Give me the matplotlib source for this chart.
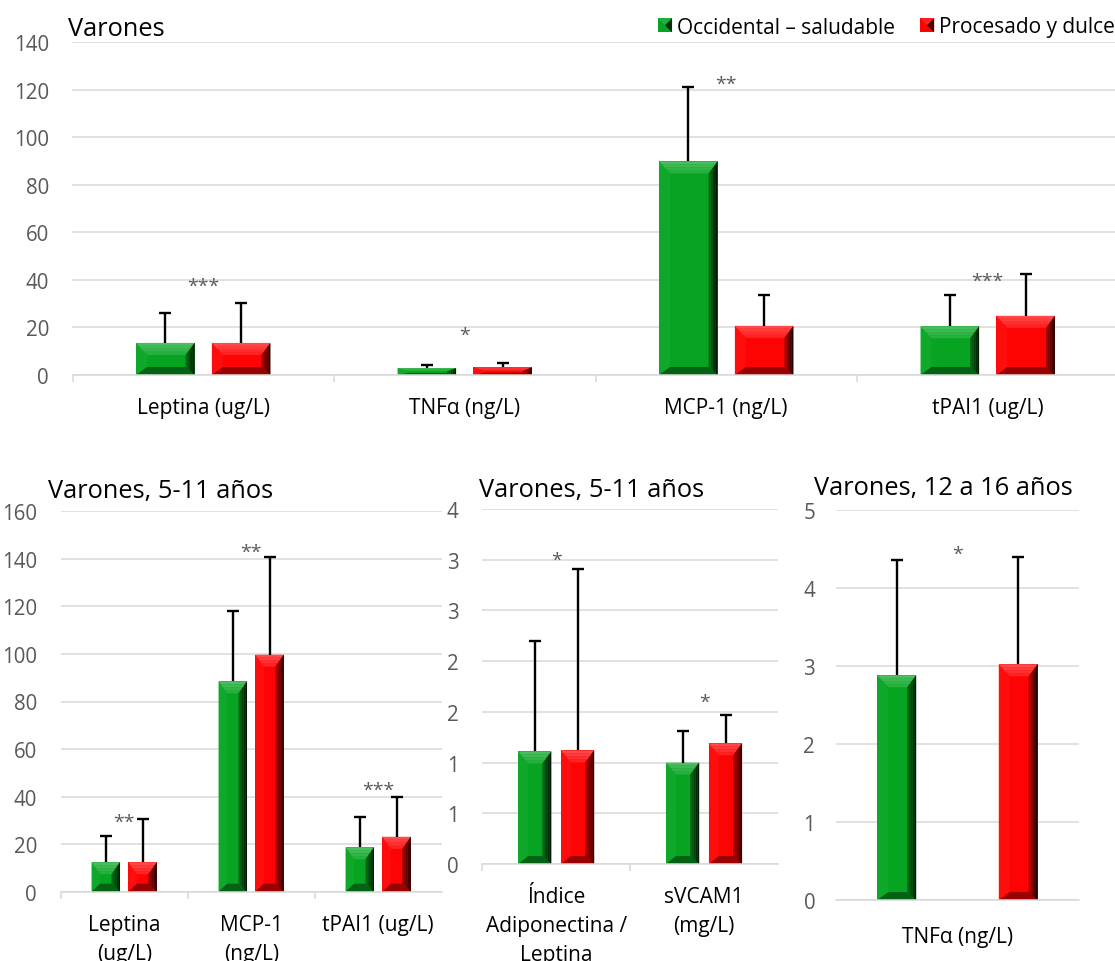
import math
import numpy as np
import matplotlib
matplotlib.use("Agg")
import matplotlib.pyplot as plt
from matplotlib.patches import Polygon, Rectangle, Patch
from matplotlib.legend_handler import HandlerBase
from matplotlib.ticker import FuncFormatter
from matplotlib.colors import to_rgb

plt.rcParams['font.family'] = ['Open Sans', 'DejaVu Sans']

# ---------------- data ----------------
series_names = ["Occidental – saludable", "Procesado y dulce"]

top_title = "Varones"
top_categories = ["Leptina (ug/L)", "TNFα (ng/L)", "MCP-1 (ng/L)", "tPAI1 (ug/L)"]
top_healthy = [13.5, 2.9, 89.9, 20.5]
top_healthy_sd = [12.6, 1.5, 31.3, 13.1]
top_processed = [13.5, 3.2, 20.7, 24.9]
top_processed_sd = [16.8, 1.7, 12.9, 17.4]
top_sig = ["***", "*", "**", "***"]
top_sig_y = [40.0, 19.3, 124.9, 42.4]
top_yticks = [0, 20, 40, 60, 80, 100, 120, 140]

young_title = "Varones, 5-11 años"
young_categories = ["Leptina\n(ug/L)", "MCP-1\n(ng/L)", "tPAI1 (ug/L)"]
young_healthy = [12.4, 88.5, 18.7]
young_healthy_sd = [11.2, 29.7, 12.6]
young_processed = [12.4, 99.7, 23.1]
young_processed_sd = [18.2, 41.2, 16.6]
young_sig = ["**", "**", "***"]
young_sig_y = [32.0, 145.5, 45.6]
young_yticks = [0, 20, 40, 60, 80, 100, 120, 140, 160]

ratio_title = "Varones, 5-11 años"
ratio_categories = ["Índice\nAdiponectina /\nLeptina", "sVCAM1\n(mg/L)"]
ratio_healthy = [1.11, 1.00]
ratio_healthy_sd = [1.09, 0.31]
ratio_processed = [1.12, 1.19]
ratio_processed_sd = [1.79, 0.28]
ratio_sig = ["*", "*"]
ratio_sig_y = [3.06, 1.66]
ratio_yticks = [0, 0.5, 1, 1.5, 2, 2.5, 3, 3.5]

teen_title = "Varones, 12 a 16 años"
teen_categories = ["TNFα (ng/L)"]
teen_healthy = [2.88]
teen_healthy_sd = [1.48]
teen_processed = [3.02]
teen_processed_sd = [1.37]
teen_sig = ["*"]
teen_sig_y = [4.51]
teen_yticks = [0, 1, 2, 3, 4, 5]

# ---------------- style ----------------
GREEN = "#06A421"
RED = "#FE0303"
GRID = "#D9D9D9"
TICK_TXT = "#595959"

W, H = 1115, 962
fig = plt.figure(figsize=(W / 100, H / 100), dpi=100)


def box(l, t, r, b):
    return [l / W, 1 - b / H, (r - l) / W, (b - t) / H]


def mix(c, target, t):
    c = np.array(to_rgb(c))
    target = np.array(to_rgb(target))
    return tuple(c + (target - c) * t)


def bevel_bars(ax, xs, heights, width, base):
    """Bars with an Excel-like bevel: light top, dark right edge and bottom."""
    p0 = ax.transData.transform((0, 0))
    p1 = ax.transData.transform((1, 1))
    sx, sy = p1[0] - p0[0], p1[1] - p0[1]
    bars = ax.bar(xs, heights, width, color=base, edgecolor="none", zorder=2)
    for rect in bars:
        x0 = rect.get_x()
        w = rect.get_width()
        h = rect.get_height()
        x1 = x0 + w
        side_l = min(11 / sx, 0.3 * w)
        side_r = min(9 / sx, 0.3 * w)
        top_d = min(12 / sy, 0.45 * h)
        bot_d = min(8 / sy, 0.3 * h)
        # left facet
        ax.add_patch(Polygon([(x0, 0), (x0, h), (x0 + side_l, h - top_d),
                              (x0 + side_l, bot_d)], closed=True,
                             facecolor=mix(base, "white", 0.04),
                             edgecolor="none", zorder=2.1))
        # bottom facet
        ax.add_patch(Polygon([(x0, 0), (x1, 0), (x1 - side_r, bot_d),
                              (x0 + side_l, bot_d)], closed=True,
                             facecolor=mix(base, "black", 0.4),
                             edgecolor="none", zorder=2.1))
        # top facet, graded from the edge inwards
        n = 4
        for i in range(n):
            fa, fb = i / n, (i + 1) / n
            pts = [(x0 + side_l * fa, h - top_d * fa),
                   (x1 - side_r * fa, h - top_d * fa),
                   (x1 - side_r * fb, h - top_d * fb),
                   (x0 + side_l * fb, h - top_d * fb)]
            ax.add_patch(Polygon(pts, closed=True,
                                 facecolor=mix(base, "white", 0.28 - 0.2 * fa),
                                 edgecolor="none", zorder=2.2))
        # right facet, darkening towards the outer edge
        n = 5
        for i in range(n):
            fa, fb = i / n, (i + 1) / n  # 0 = inner, 1 = outer
            xa = x1 - side_r * (1 - fa)
            xb = x1 - side_r * (1 - fb)
            pts = [(xa, bot_d * (1 - fa)), (xb, bot_d * (1 - fb)),
                   (xb, h - top_d * (1 - fb)), (xa, h - top_d * (1 - fa))]
            ax.add_patch(Polygon(pts, closed=True,
                                 facecolor=mix(base, "black", 0.25 + 0.6 * fb),
                                 edgecolor="none", zorder=2.2))
    return bars


def style_axes(ax, labels, ylim, yticks, ypad, xpad, boundary_ticks=True):
    n = len(labels)
    ax.set_xlim(-0.5, n - 0.5)
    ax.set_ylim(*ylim)
    ax.set_yticks(yticks)
    ax.yaxis.grid(True, color=GRID, lw=1.1)
    ax.set_axisbelow(True)
    for s in ["left", "right", "top"]:
        ax.spines[s].set_visible(False)
    ax.spines["bottom"].set_color(GRID)
    ax.spines["bottom"].set_linewidth(1.1)
    ax.set_xticks(range(n))
    ax.set_xticklabels(labels, fontsize=15, linespacing=1.5)
    ax.tick_params(axis="x", which="major", length=0, pad=xpad, labelcolor="black")
    ax.tick_params(axis="y", length=0, pad=ypad, labelsize=14.8, labelcolor=TICK_TXT)
    if boundary_ticks:
        ax.set_xticks(np.arange(-0.5, n - 1), minor=True)
        ax.tick_params(axis="x", which="minor", length=5, width=1.1,
                       color=GRID, direction="out")
    else:
        ax.set_xticks([], minor=True)


def draw_panel(ax, healthy, healthy_sd, processed, processed_sd, sig, sig_y,
               offset, width):
    x = np.arange(len(healthy))
    xg = x - offset
    xr = x + offset
    bevel_bars(ax, xg, healthy, width, GREEN)
    bevel_bars(ax, xr, processed, width, RED)
    for xs, m, sd in ((xg, healthy, healthy_sd), (xr, processed, processed_sd)):
        cont = ax.errorbar(xs, m, yerr=[np.zeros(len(m)), sd], fmt="none",
                           ecolor="black", elinewidth=1.7, capsize=4.3,
                           capthick=1.7, zorder=4)
        # only the upper whisker carries a cap
        for cap in cont.lines[1]:
            if np.allclose(cap.get_ydata(), m):
                cap.set_visible(False)
    for xi, s, y in zip(x, sig, sig_y):
        ax.annotate(s, (xi, y), xytext=(0, -8), textcoords="offset points",
                    ha="center", va="baseline", fontsize=14, color=TICK_TXT,
                    zorder=5)


# ---- top panel ----
ax_top = fig.add_axes(box(72.5, 43.3, 1118.5, 376))
style_axes(ax_top, top_categories, (0, 140), top_yticks, ypad=17, xpad=16)
draw_panel(ax_top, top_healthy, top_healthy_sd, top_processed, top_processed_sd,
           top_sig, top_sig_y, offset=0.145, width=0.224)

# ---- bottom-left panel ----
ax_young = fig.add_axes(box(60.7, 512.3, 441.7, 892.7))
style_axes(ax_young, young_categories, (0, 160), young_yticks, ypad=17, xpad=16)
draw_panel(ax_young, young_healthy, young_healthy_sd, young_processed,
           young_processed_sd, young_sig, young_sig_y, offset=0.145, width=0.224)

# ---- bottom-middle panel (labels rounded to whole numbers) ----
ax_ratio = fig.add_axes(box(482.3, 510, 778, 865))
style_axes(ax_ratio, ratio_categories, (0, 3.5), ratio_yticks, ypad=17, xpad=16)
ax_ratio.yaxis.set_major_formatter(
    FuncFormatter(lambda v, p: f"{math.floor(v + 0.5):d}"))
draw_panel(ax_ratio, ratio_healthy, ratio_healthy_sd, ratio_processed,
           ratio_processed_sd, ratio_sig, ratio_sig_y, offset=0.145, width=0.224)

# ---- bottom-right panel ----
ax_teen = fig.add_axes(box(836, 510.7, 1079, 901))
style_axes(ax_teen, teen_categories, (0, 5), teen_yticks, ypad=15, xpad=19,
           boundary_ticks=False)
draw_panel(ax_teen, teen_healthy, teen_healthy_sd, teen_processed,
           teen_processed_sd, teen_sig, teen_sig_y, offset=0.25, width=0.16)

# ---- titles ----
for txt, x, base in ((top_title, 67.9, 36), (young_title, 47.7, 498.3),
                     (ratio_title, 479, 496.7), (teen_title, 814, 495)):
    fig.text(x / W, 1 - base / H, txt, fontsize=18.3, ha="left", va="baseline",
             color="black")


# ---- legend ----
class BevelSquare(HandlerBase):
    def __init__(self, face):
        super().__init__()
        self.face = face

    def create_artists(self, legend, orig_handle, xdescent, ydescent, width,
                       height, fontsize, trans):
        s = min(width, height)
        x0 = -xdescent
        y0 = -ydescent
        sq = Rectangle((x0, y0), s, s, facecolor=self.face, edgecolor="none",
                       transform=trans)
        dark = Polygon([(x0 + s, y0 + s), (x0 + s, y0), (x0 + s / 2, y0 + s / 2)],
                       closed=True, facecolor=mix(self.face, "black", 0.7),
                       edgecolor="none", transform=trans)
        light = Polygon([(x0, y0 + s), (x0 + s, y0 + s), (x0 + s / 2, y0 + s / 2)],
                        closed=True, facecolor=mix(self.face, "white", 0.12),
                        edgecolor="none", transform=trans)
        return [sq, light, dark]


for name, color, xpx in ((series_names[0], GREEN, 657.9),
                         (series_names[1], RED, 920)):
    h = Patch(facecolor=color, label=name)
    fig.legend(handles=[h], labels=[name], loc="upper left",
               bbox_to_anchor=(xpx / W, 1 - 17.5 / H), frameon=False,
               fontsize=15, borderpad=0, borderaxespad=0, handlelength=0.68,
               handleheight=0.68, handletextpad=0.25,
               handler_map={h: BevelSquare(color)})

fig.savefig("out.png", dpi=100)
